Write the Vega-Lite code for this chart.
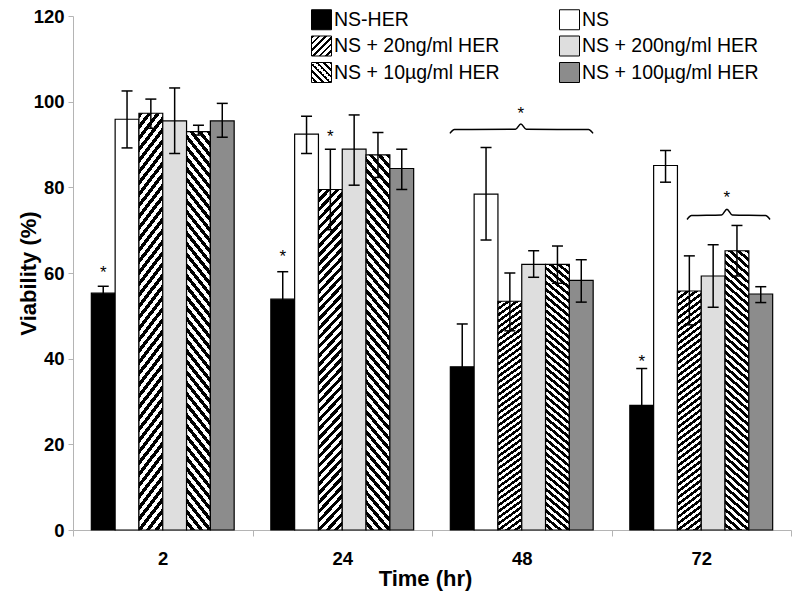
{
"$schema":"https://vega.github.io/schema/vega-lite/v6.json",
"autosize":{"type":"none"},
"width":718,"height":514,
"padding":{"left":73,"top":16,"right":9,"bottom":66},
"background":"white",
"config":{
 "font":"Liberation Sans",
 "view":{"stroke":null},
 "axis":{"grid":false,"domainColor":"#b4b4b4","tickColor":"#b4b4b4","labelColor":"#000","titleColor":"#000","labelFontWeight":"bold","titleFontWeight":"bold","labelFontSize":18.5,"titleFontSize":22},
 "axisX":{"tickSize":6,"labelPadding":13,"labelAngle":0,"tickBand":"extent","titleY":48,"titleBaseline":"middle","titleX":352},
 "axisY":{"tickSize":5,"labelPadding":4,"titleX":-45,"titleY":257,"titleBaseline":"middle","titleAngle":-90}
},
"datasets":{
 "bars":[
{"time":"2","series":"NS-HER","v":55.3,"lo":53.6,"hi":56.9},
{"time":"2","series":"NS","v":95.9,"lo":89.2,"hi":102.5},
{"time":"2","series":"NS + 20ng/ml HER","v":97.3,"lo":93.8,"hi":100.6},
{"time":"2","series":"NS + 200ng/ml HER","v":95.5,"lo":87.9,"hi":103.2},
{"time":"2","series":"NS + 10µg/ml HER","v":93.0,"lo":92.2,"hi":94.5},
{"time":"2","series":"NS + 100µg/ml HER","v":95.5,"lo":91.7,"hi":99.6},
{"time":"24","series":"NS-HER","v":53.9,"lo":47.5,"hi":60.3},
{"time":"24","series":"NS","v":92.4,"lo":87.9,"hi":96.6},
{"time":"24","series":"NS + 20ng/ml HER","v":79.5,"lo":70.1,"hi":88.9},
{"time":"24","series":"NS + 200ng/ml HER","v":88.9,"lo":80.5,"hi":96.9},
{"time":"24","series":"NS + 10µg/ml HER","v":87.6,"lo":82.3,"hi":92.8},
{"time":"24","series":"NS + 100µg/ml HER","v":84.4,"lo":79.5,"hi":88.9},
{"time":"48","series":"NS-HER","v":38.1,"lo":28.1,"hi":48.1},
{"time":"48","series":"NS","v":78.4,"lo":67.7,"hi":89.3},
{"time":"48","series":"NS + 20ng/ml HER","v":53.4,"lo":46.5,"hi":60.0},
{"time":"48","series":"NS + 200ng/ml HER","v":62.0,"lo":59.0,"hi":65.2},
{"time":"48","series":"NS + 10µg/ml HER","v":62.0,"lo":57.6,"hi":66.3},
{"time":"48","series":"NS + 100µg/ml HER","v":58.3,"lo":53.2,"hi":63.1},
{"time":"72","series":"NS-HER","v":29.1,"lo":20.5,"hi":37.7},
{"time":"72","series":"NS","v":85.1,"lo":81.2,"hi":88.6},
{"time":"72","series":"NS + 20ng/ml HER","v":55.8,"lo":47.9,"hi":64.0},
{"time":"72","series":"NS + 200ng/ml HER","v":59.3,"lo":52.0,"hi":66.6},
{"time":"72","series":"NS + 10µg/ml HER","v":65.2,"lo":59.3,"hi":71.1},
{"time":"72","series":"NS + 100µg/ml HER","v":55.1,"lo":53.1,"hi":56.8}
 ],
 "stars":[
{"time":"2","series":"NS-HER","v":61.1},
{"time":"24","series":"NS-HER","v":65.0},
{"time":"24","series":"NS + 20ng/ml HER","v":92.9},
{"time":"72","series":"NS-HER","v":40.5}
 ],
 "braces":[
{"brace":"48","x":2.100,"v":92.6},{"brace":"48","x":2.125,"v":93.5},{"brace":"48","x":2.465,"v":93.55},{"brace":"48","x":2.495,"v":94.8},{"brace":"48","x":2.525,"v":93.55},{"brace":"48","x":2.872,"v":93.5},{"brace":"48","x":2.897,"v":92.6},
{"brace":"72","x":3.421,"v":72.5},{"brace":"72","x":3.446,"v":73.4},{"brace":"72","x":3.613,"v":73.55},{"brace":"72","x":3.643,"v":74.9},{"brace":"72","x":3.673,"v":73.55},{"brace":"72","x":3.858,"v":73.4},{"brace":"72","x":3.883,"v":72.5}
 ],
 "bstars":[{"x":2.495,"v":98.3},{"x":3.643,"v":78.6}]
},
"layer":[
 {
  "data":{"name":"bars"},
  "encoding":{
   "x":{"field":"time","type":"nominal","scale":{"domain":["2","24","48","72"],"paddingInner":0,"paddingOuter":0},"title":"Time (hr)"},
   "xOffset":{"field":"series","type":"nominal","scale":{"domain":["NS-HER","NS","NS + 20ng/ml HER","NS + 200ng/ml HER","NS + 10µg/ml HER","NS + 100µg/ml HER"],"paddingInner":0,"paddingOuter":0.77}}
  },
  "layer":[
   {"mark":{"type":"bar","stroke":"#000","strokeWidth":1.2},
    "encoding":{
     "y":{"field":"v","type":"quantitative","scale":{"domain":[0,120],"nice":false},"axis":{"values":[0,20,40,60,80,100,120]},"title":"Viability (%)"},
     "fill":{
      "condition":[
       {"test":"datum.series === 'NS + 20ng/ml HER'","value":{"gradient":"linear","x1":0,"y1":0,"x2":0.0802,"y2":1.069,"stops":[
{"offset":0,"color":"#000"},{"offset":0.0125,"color":"#000"},{"offset":0.0125,"color":"#fff"},{"offset":0.025,"color":"#fff"},
{"offset":0.025,"color":"#000"},{"offset":0.0375,"color":"#000"},{"offset":0.0375,"color":"#fff"},{"offset":0.05,"color":"#fff"},
{"offset":0.05,"color":"#000"},{"offset":0.0625,"color":"#000"},{"offset":0.0625,"color":"#fff"},{"offset":0.075,"color":"#fff"},
{"offset":0.075,"color":"#000"},{"offset":0.0875,"color":"#000"},{"offset":0.0875,"color":"#fff"},{"offset":0.1,"color":"#fff"},
{"offset":0.1,"color":"#000"},{"offset":0.1125,"color":"#000"},{"offset":0.1125,"color":"#fff"},{"offset":0.125,"color":"#fff"},
{"offset":0.125,"color":"#000"},{"offset":0.1375,"color":"#000"},{"offset":0.1375,"color":"#fff"},{"offset":0.15,"color":"#fff"},
{"offset":0.15,"color":"#000"},{"offset":0.1625,"color":"#000"},{"offset":0.1625,"color":"#fff"},{"offset":0.175,"color":"#fff"},
{"offset":0.175,"color":"#000"},{"offset":0.1875,"color":"#000"},{"offset":0.1875,"color":"#fff"},{"offset":0.2,"color":"#fff"},
{"offset":0.2,"color":"#000"},{"offset":0.2125,"color":"#000"},{"offset":0.2125,"color":"#fff"},{"offset":0.225,"color":"#fff"},
{"offset":0.225,"color":"#000"},{"offset":0.2375,"color":"#000"},{"offset":0.2375,"color":"#fff"},{"offset":0.25,"color":"#fff"},
{"offset":0.25,"color":"#000"},{"offset":0.2625,"color":"#000"},{"offset":0.2625,"color":"#fff"},{"offset":0.275,"color":"#fff"},
{"offset":0.275,"color":"#000"},{"offset":0.2875,"color":"#000"},{"offset":0.2875,"color":"#fff"},{"offset":0.3,"color":"#fff"},
{"offset":0.3,"color":"#000"},{"offset":0.3125,"color":"#000"},{"offset":0.3125,"color":"#fff"},{"offset":0.325,"color":"#fff"},
{"offset":0.325,"color":"#000"},{"offset":0.3375,"color":"#000"},{"offset":0.3375,"color":"#fff"},{"offset":0.35,"color":"#fff"},
{"offset":0.35,"color":"#000"},{"offset":0.3625,"color":"#000"},{"offset":0.3625,"color":"#fff"},{"offset":0.375,"color":"#fff"},
{"offset":0.375,"color":"#000"},{"offset":0.3875,"color":"#000"},{"offset":0.3875,"color":"#fff"},{"offset":0.4,"color":"#fff"},
{"offset":0.4,"color":"#000"},{"offset":0.4125,"color":"#000"},{"offset":0.4125,"color":"#fff"},{"offset":0.425,"color":"#fff"},
{"offset":0.425,"color":"#000"},{"offset":0.4375,"color":"#000"},{"offset":0.4375,"color":"#fff"},{"offset":0.45,"color":"#fff"},
{"offset":0.45,"color":"#000"},{"offset":0.4625,"color":"#000"},{"offset":0.4625,"color":"#fff"},{"offset":0.475,"color":"#fff"},
{"offset":0.475,"color":"#000"},{"offset":0.4875,"color":"#000"},{"offset":0.4875,"color":"#fff"},{"offset":0.5,"color":"#fff"},
{"offset":0.5,"color":"#000"},{"offset":0.5125,"color":"#000"},{"offset":0.5125,"color":"#fff"},{"offset":0.525,"color":"#fff"},
{"offset":0.525,"color":"#000"},{"offset":0.5375,"color":"#000"},{"offset":0.5375,"color":"#fff"},{"offset":0.55,"color":"#fff"},
{"offset":0.55,"color":"#000"},{"offset":0.5625,"color":"#000"},{"offset":0.5625,"color":"#fff"},{"offset":0.575,"color":"#fff"},
{"offset":0.575,"color":"#000"},{"offset":0.5875,"color":"#000"},{"offset":0.5875,"color":"#fff"},{"offset":0.6,"color":"#fff"},
{"offset":0.6,"color":"#000"},{"offset":0.6125,"color":"#000"},{"offset":0.6125,"color":"#fff"},{"offset":0.625,"color":"#fff"},
{"offset":0.625,"color":"#000"},{"offset":0.6375,"color":"#000"},{"offset":0.6375,"color":"#fff"},{"offset":0.65,"color":"#fff"},
{"offset":0.65,"color":"#000"},{"offset":0.6625,"color":"#000"},{"offset":0.6625,"color":"#fff"},{"offset":0.675,"color":"#fff"},
{"offset":0.675,"color":"#000"},{"offset":0.6875,"color":"#000"},{"offset":0.6875,"color":"#fff"},{"offset":0.7,"color":"#fff"},
{"offset":0.7,"color":"#000"},{"offset":0.7125,"color":"#000"},{"offset":0.7125,"color":"#fff"},{"offset":0.725,"color":"#fff"},
{"offset":0.725,"color":"#000"},{"offset":0.7375,"color":"#000"},{"offset":0.7375,"color":"#fff"},{"offset":0.75,"color":"#fff"},
{"offset":0.75,"color":"#000"},{"offset":0.7625,"color":"#000"},{"offset":0.7625,"color":"#fff"},{"offset":0.775,"color":"#fff"},
{"offset":0.775,"color":"#000"},{"offset":0.7875,"color":"#000"},{"offset":0.7875,"color":"#fff"},{"offset":0.8,"color":"#fff"},
{"offset":0.8,"color":"#000"},{"offset":0.8125,"color":"#000"},{"offset":0.8125,"color":"#fff"},{"offset":0.825,"color":"#fff"},
{"offset":0.825,"color":"#000"},{"offset":0.8375,"color":"#000"},{"offset":0.8375,"color":"#fff"},{"offset":0.85,"color":"#fff"},
{"offset":0.85,"color":"#000"},{"offset":0.8625,"color":"#000"},{"offset":0.8625,"color":"#fff"},{"offset":0.875,"color":"#fff"},
{"offset":0.875,"color":"#000"},{"offset":0.8875,"color":"#000"},{"offset":0.8875,"color":"#fff"},{"offset":0.9,"color":"#fff"},
{"offset":0.9,"color":"#000"},{"offset":0.9125,"color":"#000"},{"offset":0.9125,"color":"#fff"},{"offset":0.925,"color":"#fff"},
{"offset":0.925,"color":"#000"},{"offset":0.9375,"color":"#000"},{"offset":0.9375,"color":"#fff"},{"offset":0.95,"color":"#fff"},
{"offset":0.95,"color":"#000"},{"offset":0.9625,"color":"#000"},{"offset":0.9625,"color":"#fff"},{"offset":0.975,"color":"#fff"},
{"offset":0.975,"color":"#000"},{"offset":0.9875,"color":"#000"},{"offset":0.9875,"color":"#fff"},{"offset":1,"color":"#fff"}
       ]}},
       {"test":"datum.series === 'NS + 10µg/ml HER'","value":{"gradient":"linear","x1":1,"y1":0,"x2":0.9198,"y2":1.069,"stops":[
{"offset":0,"color":"#000"},{"offset":0.0125,"color":"#000"},{"offset":0.0125,"color":"#fff"},{"offset":0.025,"color":"#fff"},
{"offset":0.025,"color":"#000"},{"offset":0.0375,"color":"#000"},{"offset":0.0375,"color":"#fff"},{"offset":0.05,"color":"#fff"},
{"offset":0.05,"color":"#000"},{"offset":0.0625,"color":"#000"},{"offset":0.0625,"color":"#fff"},{"offset":0.075,"color":"#fff"},
{"offset":0.075,"color":"#000"},{"offset":0.0875,"color":"#000"},{"offset":0.0875,"color":"#fff"},{"offset":0.1,"color":"#fff"},
{"offset":0.1,"color":"#000"},{"offset":0.1125,"color":"#000"},{"offset":0.1125,"color":"#fff"},{"offset":0.125,"color":"#fff"},
{"offset":0.125,"color":"#000"},{"offset":0.1375,"color":"#000"},{"offset":0.1375,"color":"#fff"},{"offset":0.15,"color":"#fff"},
{"offset":0.15,"color":"#000"},{"offset":0.1625,"color":"#000"},{"offset":0.1625,"color":"#fff"},{"offset":0.175,"color":"#fff"},
{"offset":0.175,"color":"#000"},{"offset":0.1875,"color":"#000"},{"offset":0.1875,"color":"#fff"},{"offset":0.2,"color":"#fff"},
{"offset":0.2,"color":"#000"},{"offset":0.2125,"color":"#000"},{"offset":0.2125,"color":"#fff"},{"offset":0.225,"color":"#fff"},
{"offset":0.225,"color":"#000"},{"offset":0.2375,"color":"#000"},{"offset":0.2375,"color":"#fff"},{"offset":0.25,"color":"#fff"},
{"offset":0.25,"color":"#000"},{"offset":0.2625,"color":"#000"},{"offset":0.2625,"color":"#fff"},{"offset":0.275,"color":"#fff"},
{"offset":0.275,"color":"#000"},{"offset":0.2875,"color":"#000"},{"offset":0.2875,"color":"#fff"},{"offset":0.3,"color":"#fff"},
{"offset":0.3,"color":"#000"},{"offset":0.3125,"color":"#000"},{"offset":0.3125,"color":"#fff"},{"offset":0.325,"color":"#fff"},
{"offset":0.325,"color":"#000"},{"offset":0.3375,"color":"#000"},{"offset":0.3375,"color":"#fff"},{"offset":0.35,"color":"#fff"},
{"offset":0.35,"color":"#000"},{"offset":0.3625,"color":"#000"},{"offset":0.3625,"color":"#fff"},{"offset":0.375,"color":"#fff"},
{"offset":0.375,"color":"#000"},{"offset":0.3875,"color":"#000"},{"offset":0.3875,"color":"#fff"},{"offset":0.4,"color":"#fff"},
{"offset":0.4,"color":"#000"},{"offset":0.4125,"color":"#000"},{"offset":0.4125,"color":"#fff"},{"offset":0.425,"color":"#fff"},
{"offset":0.425,"color":"#000"},{"offset":0.4375,"color":"#000"},{"offset":0.4375,"color":"#fff"},{"offset":0.45,"color":"#fff"},
{"offset":0.45,"color":"#000"},{"offset":0.4625,"color":"#000"},{"offset":0.4625,"color":"#fff"},{"offset":0.475,"color":"#fff"},
{"offset":0.475,"color":"#000"},{"offset":0.4875,"color":"#000"},{"offset":0.4875,"color":"#fff"},{"offset":0.5,"color":"#fff"},
{"offset":0.5,"color":"#000"},{"offset":0.5125,"color":"#000"},{"offset":0.5125,"color":"#fff"},{"offset":0.525,"color":"#fff"},
{"offset":0.525,"color":"#000"},{"offset":0.5375,"color":"#000"},{"offset":0.5375,"color":"#fff"},{"offset":0.55,"color":"#fff"},
{"offset":0.55,"color":"#000"},{"offset":0.5625,"color":"#000"},{"offset":0.5625,"color":"#fff"},{"offset":0.575,"color":"#fff"},
{"offset":0.575,"color":"#000"},{"offset":0.5875,"color":"#000"},{"offset":0.5875,"color":"#fff"},{"offset":0.6,"color":"#fff"},
{"offset":0.6,"color":"#000"},{"offset":0.6125,"color":"#000"},{"offset":0.6125,"color":"#fff"},{"offset":0.625,"color":"#fff"},
{"offset":0.625,"color":"#000"},{"offset":0.6375,"color":"#000"},{"offset":0.6375,"color":"#fff"},{"offset":0.65,"color":"#fff"},
{"offset":0.65,"color":"#000"},{"offset":0.6625,"color":"#000"},{"offset":0.6625,"color":"#fff"},{"offset":0.675,"color":"#fff"},
{"offset":0.675,"color":"#000"},{"offset":0.6875,"color":"#000"},{"offset":0.6875,"color":"#fff"},{"offset":0.7,"color":"#fff"},
{"offset":0.7,"color":"#000"},{"offset":0.7125,"color":"#000"},{"offset":0.7125,"color":"#fff"},{"offset":0.725,"color":"#fff"},
{"offset":0.725,"color":"#000"},{"offset":0.7375,"color":"#000"},{"offset":0.7375,"color":"#fff"},{"offset":0.75,"color":"#fff"},
{"offset":0.75,"color":"#000"},{"offset":0.7625,"color":"#000"},{"offset":0.7625,"color":"#fff"},{"offset":0.775,"color":"#fff"},
{"offset":0.775,"color":"#000"},{"offset":0.7875,"color":"#000"},{"offset":0.7875,"color":"#fff"},{"offset":0.8,"color":"#fff"},
{"offset":0.8,"color":"#000"},{"offset":0.8125,"color":"#000"},{"offset":0.8125,"color":"#fff"},{"offset":0.825,"color":"#fff"},
{"offset":0.825,"color":"#000"},{"offset":0.8375,"color":"#000"},{"offset":0.8375,"color":"#fff"},{"offset":0.85,"color":"#fff"},
{"offset":0.85,"color":"#000"},{"offset":0.8625,"color":"#000"},{"offset":0.8625,"color":"#fff"},{"offset":0.875,"color":"#fff"},
{"offset":0.875,"color":"#000"},{"offset":0.8875,"color":"#000"},{"offset":0.8875,"color":"#fff"},{"offset":0.9,"color":"#fff"},
{"offset":0.9,"color":"#000"},{"offset":0.9125,"color":"#000"},{"offset":0.9125,"color":"#fff"},{"offset":0.925,"color":"#fff"},
{"offset":0.925,"color":"#000"},{"offset":0.9375,"color":"#000"},{"offset":0.9375,"color":"#fff"},{"offset":0.95,"color":"#fff"},
{"offset":0.95,"color":"#000"},{"offset":0.9625,"color":"#000"},{"offset":0.9625,"color":"#fff"},{"offset":0.975,"color":"#fff"},
{"offset":0.975,"color":"#000"},{"offset":0.9875,"color":"#000"},{"offset":0.9875,"color":"#fff"},{"offset":1,"color":"#fff"}
       ]}}
      ],
      "field":"series","type":"nominal","legend":null,
      "scale":{"domain":["NS-HER","NS","NS + 20ng/ml HER","NS + 200ng/ml HER","NS + 10µg/ml HER","NS + 100µg/ml HER"],"range":["#000000","#ffffff","#777777","#dedede","#777777","#8c8c8c"]}
     }
    }},
   {"mark":{"type":"rule","color":"#000","strokeWidth":1.5},
    "encoding":{"y":{"field":"lo","type":"quantitative","title":"Viability (%)"},"y2":{"field":"hi"}}},
   {"mark":{"type":"tick","color":"#000","opacity":1,"thickness":1.5,"size":11},
    "encoding":{"y":{"field":"hi","type":"quantitative","title":"Viability (%)"}}},
   {"mark":{"type":"tick","color":"#000","opacity":1,"thickness":1.5,"size":11},
    "encoding":{"y":{"field":"lo","type":"quantitative","title":"Viability (%)"}}},
   {"data":{"name":"stars"},
    "mark":{"type":"text","text":"*","fontSize":17,"dy":10,"baseline":"alphabetic","color":"#000"},
    "encoding":{"y":{"field":"v","type":"quantitative","title":"Viability (%)"}}}
  ]
 },
 {
  "data":{"name":"bars"},
  "mark":{"type":"bar","strokeWidth":0},
  "encoding":{
   "y":{"datum":0,"type":"quantitative","title":"Viability (%)"},
   "y2":{"datum":0},
   "fill":{"field":"series","type":"nominal",
    "legend":{"orient":"none","legendX":238,"legendY":-7,"title":null,"columns":2,"columnPadding":57,"rowPadding":1.5,"symbolType":"square","symbolSize":400,"symbolStrokeColor":"#000","symbolStrokeWidth":1,"symbolOpacity":1,"labelFontSize":19.5,"labelOffset":2,"labelLimit":400,"labelColor":"#000","padding":0},
    "scale":{"domain":["NS-HER","NS + 20ng/ml HER","NS + 10µg/ml HER","NS","NS + 200ng/ml HER","NS + 100µg/ml HER"],
     "range":["#000000",
      {"expr":"{gradient:'linear',x1:0,y1:0,x2:1,y2:1,stops:[{offset:0,color:'#000'},{offset:0.0667,color:'#000'},{offset:0.0667,color:'#fff'},{offset:0.1667,color:'#fff'},{offset:0.1667,color:'#000'},{offset:0.2333,color:'#000'},{offset:0.2333,color:'#fff'},{offset:0.3333,color:'#fff'},{offset:0.3333,color:'#000'},{offset:0.4,color:'#000'},{offset:0.4,color:'#fff'},{offset:0.5,color:'#fff'},{offset:0.5,color:'#000'},{offset:0.5667,color:'#000'},{offset:0.5667,color:'#fff'},{offset:0.6667,color:'#fff'},{offset:0.6667,color:'#000'},{offset:0.7333,color:'#000'},{offset:0.7333,color:'#fff'},{offset:0.8333,color:'#fff'},{offset:0.8333,color:'#000'},{offset:0.9,color:'#000'},{offset:0.9,color:'#fff'},{offset:1,color:'#fff'}]}"},
      {"expr":"{gradient:'linear',x1:1,y1:0,x2:0,y2:1,stops:[{offset:0,color:'#000'},{offset:0.0667,color:'#000'},{offset:0.0667,color:'#fff'},{offset:0.1667,color:'#fff'},{offset:0.1667,color:'#000'},{offset:0.2333,color:'#000'},{offset:0.2333,color:'#fff'},{offset:0.3333,color:'#fff'},{offset:0.3333,color:'#000'},{offset:0.4,color:'#000'},{offset:0.4,color:'#fff'},{offset:0.5,color:'#fff'},{offset:0.5,color:'#000'},{offset:0.5667,color:'#000'},{offset:0.5667,color:'#fff'},{offset:0.6667,color:'#fff'},{offset:0.6667,color:'#000'},{offset:0.7333,color:'#000'},{offset:0.7333,color:'#fff'},{offset:0.8333,color:'#fff'},{offset:0.8333,color:'#000'},{offset:0.9,color:'#000'},{offset:0.9,color:'#fff'},{offset:1,color:'#fff'}]}"},
      "#ffffff","#dedede","#8c8c8c"]}}
  }
 },
 {
  "layer":[
   {"data":{"name":"braces"},
    "mark":{"type":"line","interpolate":"monotone","color":"#000","strokeWidth":1.5},
    "encoding":{
     "x":{"field":"x","type":"quantitative","scale":{"domain":[0,4],"nice":false,"zero":false},"axis":null},
     "y":{"field":"v","type":"quantitative","title":"Viability (%)"},
     "detail":{"field":"brace"}
    }},
   {"data":{"name":"bstars"},
    "mark":{"type":"text","text":"*","fontSize":17,"dy":10,"baseline":"alphabetic","color":"#000"},
    "encoding":{
     "x":{"field":"x","type":"quantitative","axis":null},
     "y":{"field":"v","type":"quantitative","title":"Viability (%)"}
    }}
  ]
 }
],
"resolve":{"scale":{"x":"independent","fill":"independent"}}
}
